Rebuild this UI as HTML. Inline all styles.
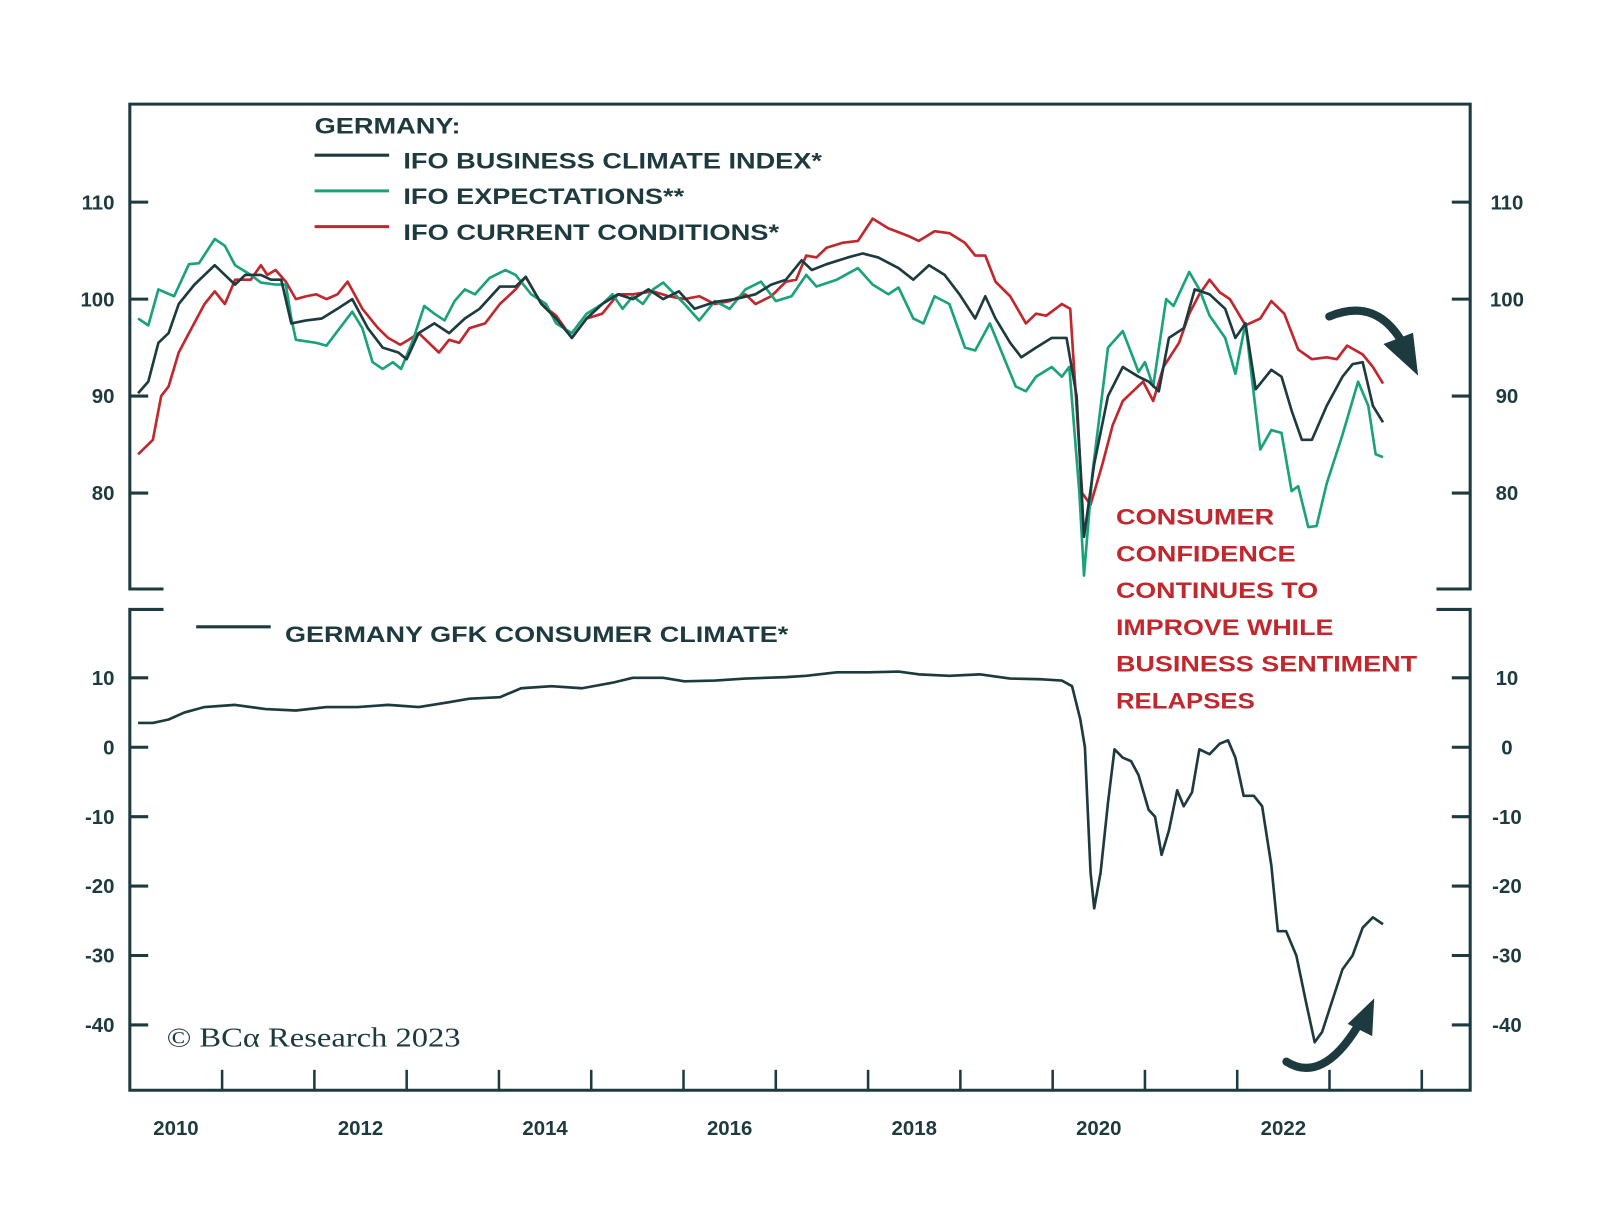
<!DOCTYPE html>
<html><head><meta charset="utf-8"><title>Germany IFO and GfK</title>
<style>
html,body{margin:0;padding:0;background:#fff;}
svg{display:block;}
text{font-family:"Liberation Sans",sans-serif;}
</style></head>
<body>
<svg id="chart" width="1600" height="1225" viewBox="0 0 1567 1200" xmlns="http://www.w3.org/2000/svg">
<g id="frame" fill="none" stroke="#1d3b3f" stroke-width="3"></g>
<g id="axes"></g>
<g id="series" fill="none" stroke-width="2.6" stroke-linejoin="round"></g>
<g>
  <text x="308" y="131" font-size="22" font-weight="bold" fill="#1d3b3f" textLength="143" lengthAdjust="spacingAndGlyphs">GERMANY:</text>
  <line x1="308" y1="152" x2="381" y2="152" stroke="#1d3b3f" stroke-width="3"/>
  <text x="395" y="165" font-size="22" font-weight="bold" fill="#1d3b3f" textLength="410" lengthAdjust="spacingAndGlyphs">IFO BUSINESS CLIMATE INDEX*</text>
  <line x1="308" y1="187" x2="381" y2="187" stroke="#1aa37a" stroke-width="3"/>
  <text x="395" y="200" font-size="22" font-weight="bold" fill="#1d3b3f" textLength="275" lengthAdjust="spacingAndGlyphs">IFO EXPECTATIONS**</text>
  <line x1="308" y1="222" x2="381" y2="222" stroke="#c1272d" stroke-width="3"/>
  <text x="395" y="235" font-size="22" font-weight="bold" fill="#1d3b3f" textLength="368" lengthAdjust="spacingAndGlyphs">IFO CURRENT CONDITIONS*</text>
</g>
<g>
  <line x1="192" y1="614" x2="265" y2="614" stroke="#1d3b3f" stroke-width="3"/>
  <text x="279" y="629" font-size="22" font-weight="bold" fill="#1d3b3f" textLength="493" lengthAdjust="spacingAndGlyphs">GERMANY GFK CONSUMER CLIMATE*</text>
</g>
<g font-size="22" font-weight="bold" fill="#c1272d">
  <text x="1093" y="514" textLength="155" lengthAdjust="spacingAndGlyphs">CONSUMER</text>
  <text x="1093" y="550" textLength="176" lengthAdjust="spacingAndGlyphs">CONFIDENCE</text>
  <text x="1093" y="586" textLength="198" lengthAdjust="spacingAndGlyphs">CONTINUES TO</text>
  <text x="1093" y="622" textLength="213" lengthAdjust="spacingAndGlyphs">IMPROVE WHILE</text>
  <text x="1093" y="658" textLength="295" lengthAdjust="spacingAndGlyphs">BUSINESS SENTIMENT</text>
  <text x="1093" y="694" textLength="136" lengthAdjust="spacingAndGlyphs">RELAPSES</text>
</g>
<text x="163" y="1025" font-size="27" fill="#1d3b3f" style="font-family:'Liberation Serif',serif" textLength="288" lengthAdjust="spacingAndGlyphs">© BCα Research 2023</text>
<g>
  <path d="M1302,310 Q1350,290 1376,340" fill="none" stroke="#1d3b3f" stroke-width="8" stroke-linecap="round"/>
  <polygon points="1355,337 1384,326 1389,368" fill="#1d3b3f"/>
</g>
<g>
  <path d="M1260,1040 Q1295,1062 1330,1005" fill="none" stroke="#1d3b3f" stroke-width="8" stroke-linecap="round"/>
  <polygon points="1320,1003 1344,1015 1346,978" fill="#1d3b3f"/>
</g>
</svg>
<script>
const NS='http://www.w3.org/2000/svg';
// ---- data (years since 2010) ----
const bizYears=[0.09,0.20,0.31,0.42,0.53,0.70,0.92,1.03,1.14,1.25,1.42,1.53,1.64,1.75,1.91,2.08,2.25,2.41,2.58,2.74,2.91,3.00,3.13,3.30,3.46,3.63,3.79,4.01,4.18,4.29,4.46,4.62,4.79,4.95,5.12,5.29,5.45,5.62,5.78,5.95,6.12,6.34,6.56,6.78,6.95,7.11,7.28,7.39,7.55,7.78,7.94,8.11,8.33,8.49,8.66,8.83,8.99,9.16,9.27,9.38,9.54,9.66,9.82,9.99,10.15,10.26,10.34,10.45,10.60,10.76,10.93,11.04,11.15,11.26,11.42,11.54,11.70,11.87,11.98,12.09,12.20,12.37,12.48,12.59,12.70,12.81,12.97,13.14,13.25,13.36,13.47,13.58];
const bizValues=[90.3,91.5,95.5,96.5,99.5,101.5,103.5,102.5,101.5,102.5,102.5,102,102,97.5,97.8,98,99,100,97,95,94.5,93.8,96.5,97.5,96.5,98,99,101.3,101.3,102.3,99.5,98,96,98,99.5,100.5,100,101,100,100.8,99,99.7,100,100.5,101.5,102,104,103,103.6,104.3,104.7,104.3,103.2,102,103.5,102.5,100.5,98,100.3,98,95.5,94,95,96,96,90,75.5,83,90,93,92,91.5,90.5,96,97,101,100.5,99,96,97.5,90.7,92.7,92,88.5,85.5,85.5,89,92,93.3,93.5,89,87.3];
const expYears=[0.09,0.20,0.31,0.48,0.64,0.75,0.92,1.03,1.14,1.31,1.42,1.58,1.69,1.75,1.80,2.02,2.13,2.41,2.52,2.63,2.74,2.85,2.94,3.07,3.19,3.30,3.41,3.52,3.63,3.74,3.90,4.07,4.18,4.35,4.51,4.62,4.79,4.95,5.12,5.23,5.34,5.45,5.56,5.67,5.78,6.01,6.17,6.34,6.50,6.67,6.84,7.00,7.17,7.33,7.44,7.66,7.89,8.05,8.22,8.33,8.49,8.60,8.72,8.88,9.05,9.16,9.32,9.60,9.71,9.82,9.99,10.10,10.18,10.29,10.34,10.43,10.60,10.76,10.93,11.00,11.09,11.23,11.31,11.48,11.59,11.70,11.87,11.98,12.09,12.25,12.37,12.48,12.59,12.66,12.77,12.86,12.97,13.14,13.31,13.42,13.50,13.58];
const expValues=[98,97.3,101,100.3,103.6,103.7,106.2,105.5,103.5,102.5,101.7,101.5,101.5,98,95.8,95.5,95.2,98.7,97,93.5,92.8,93.5,92.8,95.8,99.3,98.5,97.8,99.8,101,100.5,102.2,103,102.5,100.5,99.5,97.5,96.5,98.5,99.5,100.5,99,100.3,99.5,101,101.7,99.5,97.8,99.8,99,101,101.8,99.8,100.3,102.5,101.3,102,103.2,101.5,100.5,101.2,98,97.5,100.3,99.5,95,94.7,97.5,91,90.5,92,93,92,93,80,71.5,82,95,96.7,92.5,93.5,91,100,99.3,102.8,101,98.3,96,92.3,97.5,84.5,86.5,86.2,80.2,80.7,76.5,76.6,81,86,91.5,89,84,83.7];
const curYears=[0.09,0.25,0.34,0.42,0.53,0.64,0.81,0.92,1.03,1.14,1.31,1.42,1.49,1.58,1.69,1.80,1.91,2.02,2.13,2.25,2.36,2.52,2.69,2.80,2.93,3.02,3.13,3.24,3.35,3.46,3.57,3.68,3.85,4.01,4.18,4.29,4.46,4.62,4.79,4.95,5.12,5.29,5.45,5.67,5.84,6.01,6.17,6.34,6.50,6.67,6.78,6.95,7.11,7.22,7.33,7.44,7.55,7.72,7.89,8.05,8.22,8.44,8.55,8.72,8.88,9.05,9.16,9.27,9.38,9.54,9.71,9.82,9.93,10.10,10.19,10.32,10.41,10.54,10.65,10.76,10.87,10.98,11.09,11.20,11.37,11.48,11.59,11.70,11.81,11.92,12.09,12.25,12.37,12.51,12.66,12.81,12.97,13.08,13.19,13.36,13.47,13.58];
const curValues=[84,85.5,90,91,94.5,96.5,99.5,100.8,99.5,102,102,103.5,102.5,103,101.8,100,100.3,100.5,100,100.5,101.8,99,97,96,95.3,95.8,96.5,95.5,94.5,95.8,95.5,97,97.5,99.5,101,102.3,99.5,98.3,96,98,98.5,100.5,100.5,100.8,100.3,100,100.3,99.5,99.8,100.5,99.5,100.3,101.8,102,104.5,104.3,105.3,105.8,106,108.3,107.3,106.5,106,107,106.8,105.8,104.5,104.5,101.8,100.3,97.5,98.5,98.3,99.5,99,80,78.8,83,87,89.5,90.5,91.5,89.5,93,95.5,98.5,100.5,102,100.7,100,97.3,98,99.8,98.5,94.8,93.8,94,93.8,95.2,94.3,93,91.3];
const gfkYears=[0.09,0.25,0.42,0.59,0.81,1.14,1.47,1.80,2.13,2.47,2.80,3.13,3.46,3.68,4.01,4.24,4.57,4.90,5.23,5.45,5.78,6.01,6.34,6.67,6.89,7.11,7.33,7.66,8.00,8.33,8.55,8.88,9.21,9.54,9.88,10.10,10.21,10.30,10.35,10.41,10.45,10.52,10.60,10.67,10.76,10.85,10.93,11.04,11.11,11.18,11.26,11.35,11.42,11.51,11.59,11.70,11.81,11.90,11.98,12.07,12.18,12.27,12.37,12.44,12.53,12.64,12.75,12.84,12.92,13.03,13.14,13.25,13.36,13.47,13.58];
const gfkValues=[3.5,3.5,4,5,5.8,6.1,5.5,5.3,5.8,5.8,6.1,5.8,6.5,7,7.2,8.5,8.8,8.5,9.3,10,10,9.5,9.6,9.9,10,10.1,10.3,10.8,10.8,10.9,10.5,10.3,10.5,9.9,9.8,9.6,8.8,4,0,-18,-23.2,-18,-8,-0.3,-1.5,-2,-4,-9,-10,-15.5,-12,-6.2,-8.5,-6.5,-0.3,-1,0.5,1,-1.5,-7,-7,-8.5,-17,-26.5,-26.5,-30,-37,-42.5,-41,-36.5,-32,-30,-26,-24.5,-25.5];
const upperTicks=[80,90,100,110];
const lowerTicks=[-40,-30,-20,-10,0,10];
const yearLabels=[2010,2012,2014,2016,2018,2020,2022];
const tickYears=[1,2,3,4,5,6,7,8,9,10,11,12,13,14];

// ---- axis functions ----
const X0=127, PXY=90.4;
const xS=t=>X0+t*PXY;
const yU=v=>293-(v-100)*9.5;
const yL=v=>732-v*6.8;
const C='#1d3b3f';

function mk(tag,attrs,parent){const e=document.createElementNS(NS,tag);for(const k in attrs)e.setAttribute(k,attrs[k]);parent.appendChild(e);return e;}

const frame=document.getElementById('frame');
const fp=mk('path',{d:'M160,577 H127 V102 H1440 V577 H1407 M160,597 H127 V1068 H1440 V597 H1407'},frame);



const axes=document.getElementById('axes');
function ticks(vals,yf,prefix){
  vals.forEach(v=>{
    const y=yf(v);
    const l1=mk('line',{x1:127,x2:145,y1:y,y2:y,stroke:C,'stroke-width':3},axes);
    
    
    const l2=mk('line',{x1:1422,x2:1440,y1:y,y2:y,stroke:C,'stroke-width':3},axes);
    
    
    const t1=mk('text',{x:112,y:y+7,'text-anchor':'end','font-size':20,'font-weight':'bold',fill:C},axes);
    t1.textContent=v;
    
    
    const t2=mk('text',{x:1476,y:y+7,'text-anchor':'middle','font-size':20,'font-weight':'bold',fill:C},axes);
    t2.textContent=v;
    
    
  });
}
ticks(upperTicks,yU,'upper');
ticks(lowerTicks,yL,'lower');
tickYears.forEach(t=>{
  const x=xS(t);
  const l=mk('line',{x1:x,x2:x,y1:1048,y2:1068,stroke:C,'stroke-width':2.5},axes);
  
  
});
yearLabels.forEach(yr=>{
  const t=mk('text',{x:xS(yr-2010+0.5),y:1112,'text-anchor':'middle','font-size':20,'font-weight':'bold',fill:C},axes);
  t.textContent=yr;
  
  
});

const series=document.getElementById('series');
function line(xsArr,vals,yf,color,name){
  const d=vals.map((v,i)=>(i?'L':'M')+xS(xsArr[i]).toFixed(1)+','+yf(v).toFixed(1)).join(' ');
  const p=mk('path',{d:d,stroke:color},series);
  
  
}
line(curYears,curValues,yU,'#c1272d','ifo-current-conditions-line');
line(expYears,expValues,yU,'#1aa37a','ifo-expectations-line');
line(bizYears,bizValues,yU,C,'ifo-business-climate-line');
line(gfkYears,gfkValues,yL,C,'gfk-consumer-climate-line');
</script>
</body></html>
